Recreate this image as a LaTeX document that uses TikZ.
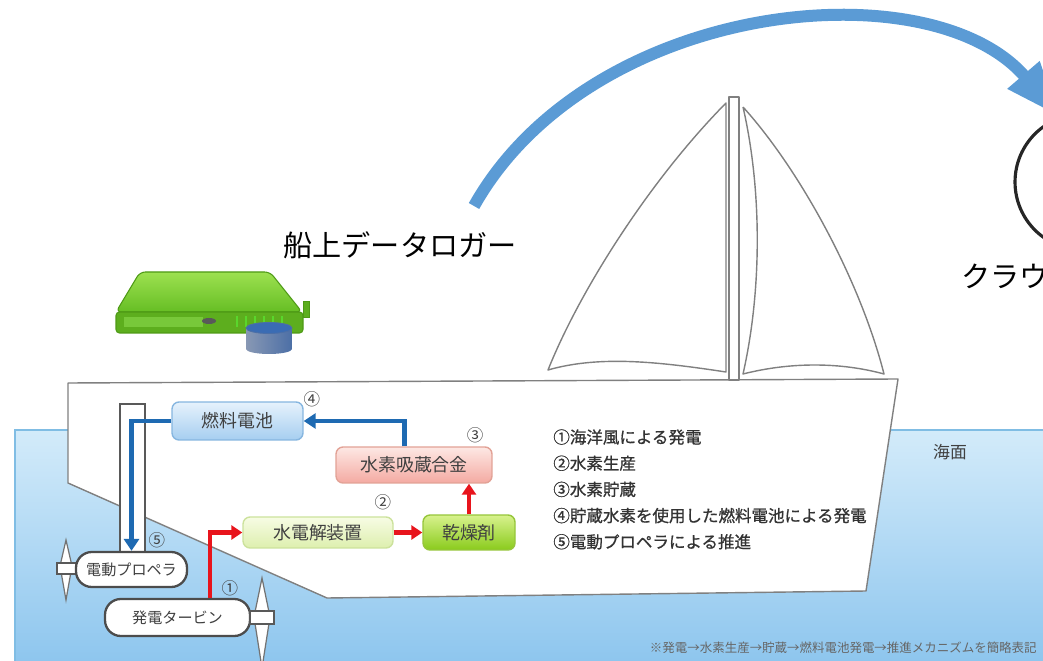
\documentclass[tikz,border=0pt]{standalone}
\usepackage{fontspec}
\newfontfamily\jp{Noto Sans CJK JP}
\newfontfamily\jpbold[FakeBold=0.8]{Noto Sans CJK JP}
\usepackage{xcolor}
\usepackage{tikz}
\usetikzlibrary{arrows.meta, positioning, calc}

\definecolor{seatop}{HTML}{D3EBFA}
\definecolor{seabot}{HTML}{8EC6EE}
\definecolor{sealine}{HTML}{80BDE4}
\definecolor{hullgray}{HTML}{808080}
\definecolor{linkblue}{HTML}{5B9BD5}
\definecolor{h2blue}{HTML}{1E6AB2}
\definecolor{powerred}{HTML}{E8141C}
\definecolor{fctop}{HTML}{E6F2FC}
\definecolor{fcbot}{HTML}{A6CEF0}
\definecolor{fcedge}{HTML}{86B6E0}
\definecolor{mhtop}{HTML}{FDE8E4}
\definecolor{mhbot}{HTML}{F4AAA2}
\definecolor{mhedge}{HTML}{E2A296}
\definecolor{eltop}{HTML}{F7FCE4}
\definecolor{elbot}{HTML}{DDEFAE}
\definecolor{eledge}{HTML}{CCE29C}
\definecolor{drytop}{HTML}{D8F28E}
\definecolor{drybot}{HTML}{8ACB1C}
\definecolor{dryedge}{HTML}{96C63A}
\definecolor{lgtop}{HTML}{9DE150}
\definecolor{lgbot}{HTML}{66BE24}
\definecolor{lgedge}{HTML}{4E9A16}
\definecolor{lgfront}{HTML}{5DAE1E}
\definecolor{lgslot}{HTML}{78C83A}
\definecolor{dbtop}{HTML}{3A6CB4}
\definecolor{dbleft}{HTML}{8898B4}
\definecolor{dbmid}{HTML}{D4DCE6}
\definecolor{dbright}{HTML}{4C6FA6}

\begin{document}
\begin{tikzpicture}[
        x=0.02cm, y=-0.02cm,
        every node/.style={font=\jp},
        unit/.style={rectangle, rounded corners=4pt, line width=0.8pt,
                     inner sep=0pt, text=black!75,
                     font=\jp\fontsize{10.2}{12}\selectfont},
        fcell/.style={unit, draw=fcedge, top color=fctop, bottom color=fcbot},
        alloy/.style={unit, draw=mhedge, top color=mhtop, bottom color=mhbot},
        elec/.style={unit, draw=eledge, top color=eltop, bottom color=elbot},
        dry/.style={unit, draw=dryedge, top color=drytop, bottom color=drybot},
        drive/.style={rectangle, rounded corners=9pt, draw=black!70,
                      line width=1.3pt, fill=white, inner sep=0pt, text=black!75,
                      font=\jp\fontsize{8.6}{10}\selectfont},
        num/.style={inner sep=0pt, text=black!75, font=\jp\fontsize{9.4}{11}\selectfont},
        hull/.style={draw=hullgray, fill=white, line width=0.8pt, line join=round},
        blade/.style={draw=black!55, fill=white, line width=0.7pt},
        hub/.style={draw=black!65, fill=white, line width=1pt},
        h2flow/.style={-{Triangle[length=0.24cm, width=0.3cm]}, line width=0.1cm, h2blue},
        power/.style={-{Triangle[length=0.22cm, width=0.28cm]}, line width=0.085cm, powerred},
        uplink/.style={-{Triangle[length=1.1cm, width=0.78cm]}, line width=0.24cm, linkblue},
        bigtext/.style={inner sep=0pt, font=\jp\fontsize{16.6}{20}\selectfont}
    ]
        \useasboundingbox (0,0) rectangle (1043,661);

        % Sea surface and water
        \shade[top color=seatop, bottom color=seabot] (15,430) rectangle (1043,661);
        \draw[sealine, line width=0.8pt] (15,661) -- (15,430) -- (1043,430);

        % Hull
        \draw[hull] (68,383) -- (898,379) -- (866,591) -- (327,598) -- (68,483) -- cycle;

        % Mast and the two sails
        \draw[hull] (726,103) .. controls (650,180) and (580,290) .. (548,370)
              .. controls (600,355) and (660,362) .. (726,372) -- cycle;
        \draw[hull] (743,107) .. controls (800,170) and (860,280) .. (884,374)
              .. controls (840,362) and (790,362) .. (743,374)
              .. controls (762,290) and (762,190) .. (743,107);
        \draw[hull] (729,97) rectangle (739,380);

        % Data logger on board
        \draw[lgedge, line width=0.6pt, rounded corners=3pt, top color=lgtop, bottom color=lgbot]
            (140,272) -- (270,272) -- (302,312) -- (116,312) -- cycle;
        \draw[lgedge, fill=lgfront, line width=0.6pt, rounded corners=2pt] (116,312) rectangle (303,333);
        \fill[lgslot] (124,317) rectangle (203,327);
        \draw[lgedge, fill=lgfront, line width=0.5pt] (303,301) rectangle (309,317);
        \fill[black!65] (209,321) ellipse [x radius=0.14cm, y radius=0.06cm];
        \foreach \vx in {237,246,255,264,273,282}
            \draw[green!25!lgslot, line width=1pt] (\vx,316) -- (\vx,327);
        \shade[left color=dbleft, middle color=dbmid, right color=dbright]
            (246,328) -- (246,349) arc[start angle=180, end angle=360, x radius=0.46cm, y radius=0.1cm]
            -- (292,328) -- cycle;
        \draw[dbright, fill=dbtop, line width=0.5pt] (269,328) ellipse [x radius=0.46cm, y radius=0.11cm];

        \node[bigtext] (logger) at (400,245) {船上データロガー};

        % Cloud side
        \node[circle, draw=black!85, line width=1.8pt, minimum size=2.72cm, inner sep=0pt] (cloud) at (1083,182) {};
        \node[bigtext, anchor=west] (cloudlbl) at (961,276) {クラウ};

        % Data upload arc
        \coordinate (upstart) at (474,206);
        \draw[uplink] (upstart) .. controls (590,0) and (930,-34) .. (cloud.110);

        % Shaft from the fuel cell down to the motor
        \draw[hub, line width=0.8pt] (120,404) rectangle (145,552);

        % Propeller and turbine blades
        \draw[blade] (66,540) -- (72,566) -- (66,600) -- (60,566) -- cycle;
        \draw[hub] (57,563) rectangle (77,574);
        \draw[blade] (262,578) -- (270,617) -- (262,668) -- (254,617) -- cycle;

        % Units on board
        \node[fcell, minimum width=2.62cm, minimum height=0.76cm] (fuelcell) at (237.5,421) {燃料電池};
        \node[alloy, minimum width=3.12cm, minimum height=0.72cm] (storage) at (414,465) {水素吸蔵合金};
        \node[elec, minimum width=3.0cm, minimum height=0.62cm] (electro) at (318,532.5) {水電解装置};
        \node[dry, minimum width=1.84cm, minimum height=0.7cm] (dryer) at (469,532.5) {乾燥剤};
        \node[drive, minimum width=2.22cm, minimum height=0.7cm] (motor) at (131.5,569.5) {電動プロペラ};
        \node[drive, minimum width=2.9cm, minimum height=0.74cm] (turbine) at (177.5,617.5) {発電タービン};
        \draw[hub] (250,611) rectangle (274,624);

        % Step numbers
        \node[num] (n1) at (230,588) {①};
        \node[num] (n2) at (383,502) {②};
        \node[num] (n3) at (475,435) {③};
        \node[num] (n4) at (312,399) {④};
        \node[num] (n5) at (157,540) {⑤};

        % --- Arrows ---
        % electricity from the turbine through electrolysis and drying
        \draw[power] ([xshift=0.65cm]turbine.north) |- (electro.west);
        \draw[power] (electro.east) -- (dryer.west);
        \draw[power] (dryer.north) -- (dryer.north |- storage.south);
        % stored hydrogen to the fuel cell, then power down to the motor
        \draw[h2flow] ([xshift=-0.2cm]storage.north) |- (fuelcell.east);
        \draw[h2flow] (fuelcell.west) -| (motor.north);

        % Legend and notes
        \node[anchor=north west, align=left, inner sep=0pt, text=black!80,
              font=\jpbold\fontsize{9.4}{14.9}\selectfont] (legend) at (553,429)
            {①海洋風による発電\\②水素生産\\③水素貯蔵\\④貯蔵水素を使用した燃料電池による発電\\⑤電動プロペラによる推進};
        \node[num, font=\jp\fontsize{9.6}{11}\selectfont] (sea) at (950,452) {海面};
        \node[anchor=east, inner sep=0pt, text=black!60, font=\jp\fontsize{7.1}{9}\selectfont] (note) at (1037,648)
            {※発電→水素生産→貯蔵→燃料電池発電→推進メカニズムを簡略表記};
    \end{tikzpicture}
\end{document}
